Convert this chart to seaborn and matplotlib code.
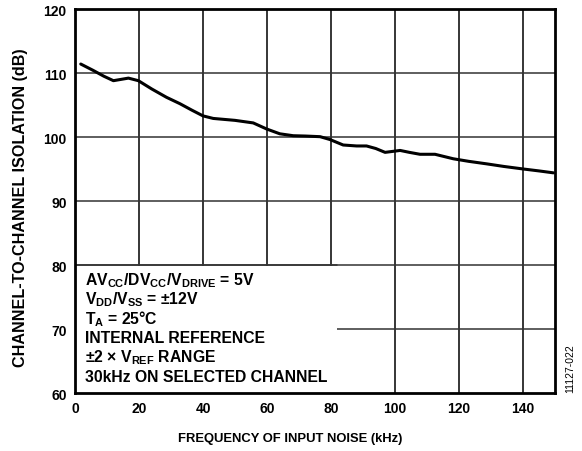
import matplotlib
matplotlib.use("Agg")
import matplotlib.pyplot as plt
import seaborn as sns
import pandas as pd
from matplotlib.patches import Rectangle

freq_khz = [1.8, 5.7, 9.0, 12.0, 16.7, 19.8, 24.0, 28.6, 32.8, 36.5, 40.0, 43.2, 50.0,
            55.7, 59.9, 64.0, 68.2, 72.0, 76.6, 79.7, 83.8, 88.0, 91.1, 94.0, 96.9,
            101.6, 104.5, 107.8, 112.5, 118.2, 123.0, 128.7, 134.0, 140.1, 145.0, 149.5]
isolation_db = [111.4, 110.4, 109.5, 108.8, 109.2, 108.8, 107.5, 106.2, 105.2, 104.2,
                103.3, 102.9, 102.6, 102.2, 101.25, 100.5, 100.2, 100.15, 100.05, 99.6,
                98.75, 98.6, 98.6, 98.2, 97.6, 97.9, 97.6, 97.3, 97.3, 96.6, 96.2,
                95.8, 95.4, 95.0, 94.7, 94.4]

x_ticks = [0, 20, 40, 60, 80, 100, 120, 140]
y_ticks = [60, 70, 80, 90, 100, 110, 120]
notes = [r"AV$_{\mathrm{CC}}$/DV$_{\mathrm{CC}}$/V$_{\mathrm{DRIVE}}$ = 5V",
         r"V$_{\mathrm{DD}}$/V$_{\mathrm{SS}}$ = ±12V",
         r"T$_{\mathrm{A}}$ = 25°C",
         "INTERNAL REFERENCE",
         r"±2 × V$_{\mathrm{REF}}$ RANGE",
         "30kHz ON SELECTED CHANNEL"]

sns.set_style("white")
plt.rcParams["font.family"] = ["Liberation Sans", "DejaVu Sans"]
plt.rcParams["mathtext.fontset"] = "custom"
plt.rcParams["mathtext.rm"] = "Liberation Sans:bold"
plt.rcParams["mathtext.it"] = "Liberation Sans:bold"
plt.rcParams["mathtext.bf"] = "Liberation Sans:bold"
for k in ["text.color", "axes.labelcolor", "xtick.color", "ytick.color"]:
    plt.rcParams[k] = "black"

df = pd.DataFrame({"freq": freq_khz, "iso": isolation_db})

fig = plt.figure(figsize=(5.82, 4.52), dpi=100)
ax = fig.add_axes([75/582, 58/452, 480/582, 384/452])

ax.set_xlim(0, 150)
ax.set_ylim(60, 120)
ax.set_xticks(x_ticks)
ax.set_yticks(y_ticks)
for xv in x_ticks[1:]:
    ax.axvline(xv, color="black", lw=1.1, zorder=1)
for yv in y_ticks[1:-1]:
    ax.axhline(yv, color="#333333", lw=1.1, zorder=1)

# white note box
ax.add_patch(Rectangle((0, 60), 82, 19.85, facecolor="white", edgecolor="none", zorder=2))
ax.axhline(80, xmax=82/150, color="#333333", lw=1.1, zorder=2.5)

sns.lineplot(data=df, x="freq", y="iso", ax=ax, color="black", lw=2.2, zorder=3)

for i, t in enumerate(notes):
    ax.text(3.0, 77.0 - i * 3.02, t, fontsize=11.3, fontweight="bold", va="baseline",
            ha="left", zorder=4)

for s in ax.spines.values():
    s.set_linewidth(2.0)
    s.set_color("black")
    s.set_zorder(5)

ax.tick_params(length=0, labelsize=10, pad=6)
for lab in ax.get_xticklabels() + ax.get_yticklabels():
    lab.set_fontweight("bold")
ax.set_xlabel("FREQUENCY OF INPUT NOISE (kHz)", fontsize=9.4, fontweight="bold")
ax.set_ylabel("CHANNEL-TO-CHANNEL ISOLATION (dB)", fontsize=11.6, fontweight="bold")
ax.xaxis.set_label_coords(215/480, -39/384)
ax.yaxis.set_label_coords(-47/480, 186/384)

fig.text(570/582, 1 - 369/452, "11127-022", rotation=90, fontsize=7.5, ha="center", va="center")

fig.savefig("out.png", dpi=100)
